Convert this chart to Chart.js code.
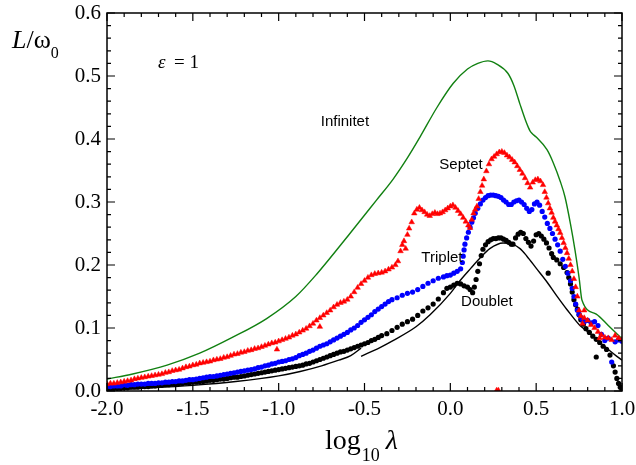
<!DOCTYPE html>
<html>
<head>
<meta charset="utf-8">
<script src="https://cdn.jsdelivr.net/npm/chart.js@4.4.1/dist/chart.umd.min.js"></script>
<style>
  body { margin: 0; background: #fff; }
  #wrap { width: 636px; height: 465px; }
</style>
</head>
<body>
<div id="wrap"><canvas id="lw"></canvas></div>
<script>
// tick labels
const xTicks = [-2.0, -1.5, -1.0, -0.5, 0.0, 0.5, 1.0];
const yTicks = [0.0, 0.1, 0.2, 0.3, 0.4, 0.5, 0.6];

// Infinitet (green line)
const infX = [-2.0, -1.85, -1.65, -1.46, -1.27, -1.07, -0.9, -0.78, -0.585, -0.43, -0.334, -0.25, -0.177, -0.078, 0.016, 0.1, 0.16, 0.219, 0.27, 0.336, 0.37, 0.406, 0.44, 0.455, 0.464, 0.475, 0.5, 0.563, 0.6, 0.64, 0.668, 0.7, 0.726, 0.75, 0.767, 0.85, 0.92, 0.988, 1.0];
const infY = [0.019, 0.027, 0.041, 0.060, 0.085, 0.115, 0.150, 0.185, 0.250, 0.303, 0.336, 0.370, 0.403, 0.450, 0.488, 0.511, 0.520, 0.524, 0.519, 0.504, 0.485, 0.455, 0.428, 0.418, 0.413, 0.409, 0.403, 0.383, 0.362, 0.333, 0.308, 0.265, 0.224, 0.180, 0.144, 0.122, 0.104, 0.086, 0.083];

// solid black line, two pieces (jump near -0.52)
const lineAX = [-2.0, -1.75, -1.5, -1.25, -1.0, -0.875, -0.75, -0.65, -0.58, -0.52];
const lineAY = [0.002, 0.005, 0.009, 0.015, 0.024, 0.031, 0.040, 0.049, 0.056, 0.068];
const lineBX = [-0.52, -0.41, -0.334, -0.2, -0.118, 0.0, 0.056, 0.12, 0.173, 0.23, 0.307, 0.36, 0.406, 0.446, 0.5, 0.563, 0.62, 0.68, 0.755, 0.8, 0.88, 0.97, 1.0];
const lineBY = [0.055, 0.069, 0.080, 0.102, 0.121, 0.155, 0.175, 0.195, 0.211, 0.226, 0.235, 0.233, 0.226, 0.214, 0.195, 0.173, 0.151, 0.129, 0.104, 0.094, 0.075, 0.055, 0.049];

// Septet (red triangles)
const sepX = [-2.00, -1.98, -1.96, -1.94, -1.92, -1.90, -1.88, -1.86, -1.84, -1.82, -1.80, -1.78, -1.76, -1.74, -1.72, -1.70, -1.68, -1.66, -1.64, -1.62,
  -1.60, -1.58, -1.56, -1.54, -1.52, -1.50, -1.48, -1.46, -1.44, -1.42, -1.40, -1.38, -1.36, -1.34, -1.32, -1.30, -1.28, -1.26, -1.24, -1.22,
  -1.20, -1.18, -1.16, -1.14, -1.12, -1.10, -1.08, -1.06, -1.04, -1.02, -1.00, -0.98, -0.96, -0.94, -0.92, -0.90, -0.88, -0.86, -0.84, -0.82,
  -0.80, -0.78, -0.76, -0.74, -0.72, -0.70, -0.68, -0.66, -0.64, -0.62, -0.60, -0.58, -0.56, -0.54, -0.52, -0.50, -0.48, -0.46, -0.44, -0.42,
  -0.40, -0.38, -0.36, -0.34, -0.32, -0.305,
  -0.29, -0.28, -0.27, -0.26, -0.25, -0.24, -0.225, -0.21, -0.195, -0.18, -0.165, -0.15, -0.135, -0.12, -0.105, -0.09, -0.075, -0.06, -0.045, -0.03, -0.015, 0.0,
  0.015, 0.03, 0.045, 0.06, 0.075, 0.09, 0.105, 0.115, 0.125, 0.135, 0.145, 0.155, 0.165, 0.175, 0.185, 0.195, 0.21, 0.225, 0.24, 0.255, 0.27, 0.285, 0.30,
  0.315, 0.33, 0.345, 0.36, 0.375, 0.39, 0.405, 0.42, 0.435, 0.45, 0.465, 0.48, 0.495, 0.51, 0.525, 0.54, 0.55, 0.56, 0.57, 0.58, 0.59, 0.60, 0.61, 0.62, 0.63,
  0.64, 0.65, 0.66, 0.67, 0.68, 0.69, 0.70, 0.71, 0.72, 0.73, 0.74, 0.75, 0.76, 0.78, 0.80, 0.82, 0.84, 0.86, 0.88, 0.90, 0.92, 0.94, 0.96, 0.98, 1.00,
  -1.01, -0.76, 0.27, 0.28, 0.87, 0.78, 0.77];
const sepY = [0.011, 0.012, 0.012, 0.013, 0.014, 0.015, 0.016, 0.017, 0.019, 0.020, 0.021, 0.022, 0.023, 0.024, 0.025, 0.026, 0.027, 0.029, 0.030, 0.032,
  0.033, 0.034, 0.036, 0.038, 0.039, 0.041, 0.042, 0.044, 0.045, 0.046, 0.047, 0.049, 0.050, 0.051, 0.053, 0.054, 0.056, 0.058, 0.059, 0.061,
  0.062, 0.064, 0.065, 0.067, 0.068, 0.070, 0.072, 0.074, 0.076, 0.077, 0.079, 0.081, 0.083, 0.085, 0.088, 0.090, 0.093, 0.096, 0.099, 0.103,
  0.107, 0.112, 0.116, 0.120, 0.124, 0.128, 0.133, 0.137, 0.140, 0.142, 0.145, 0.150, 0.157, 0.164, 0.170, 0.175, 0.180, 0.184, 0.186, 0.187,
  0.188, 0.190, 0.193, 0.196, 0.200, 0.206,
  0.222, 0.232, 0.238, 0.226, 0.248, 0.258, 0.268, 0.282, 0.288, 0.291, 0.287, 0.284, 0.280, 0.278, 0.281, 0.283, 0.281, 0.282, 0.284, 0.287, 0.290, 0.293,
  0.295, 0.291, 0.286, 0.281, 0.275, 0.269, 0.263, 0.259, 0.272, 0.282, 0.288, 0.293, 0.305, 0.316, 0.326, 0.336, 0.349, 0.360, 0.368, 0.372, 0.376, 0.379, 0.380,
  0.378, 0.374, 0.371, 0.367, 0.363, 0.357, 0.351, 0.345, 0.338, 0.330, 0.323, 0.331, 0.335, 0.336, 0.333, 0.327, 0.316, 0.307, 0.298, 0.290, 0.283, 0.275, 0.269, 0.263, 0.257,
  0.251, 0.243, 0.235, 0.227, 0.219, 0.210, 0.200, 0.190, 0.178, 0.165, 0.150, 0.128, 0.119, 0.116, 0.112, 0.105, 0.100, 0.094, 0.089, 0.085, 0.084, 0.081, 0.088, 0.084, 0.082,
  0.066, 0.102, 0.001, 0.001, 0.084, 0.128, 0.107];

// Triplet (blue circles)
const triX = [-2.00, -1.98, -1.96, -1.94, -1.92, -1.90, -1.88, -1.86, -1.84, -1.82, -1.80, -1.78, -1.76, -1.74, -1.72, -1.70, -1.68, -1.66, -1.64, -1.62,
  -1.60, -1.58, -1.56, -1.54, -1.52, -1.50, -1.48, -1.46, -1.44, -1.42, -1.40, -1.38, -1.36, -1.34, -1.32, -1.30, -1.28, -1.26, -1.24, -1.22,
  -1.20, -1.18, -1.16, -1.14, -1.12, -1.10, -1.08, -1.06, -1.04, -1.02, -1.00, -0.98, -0.96, -0.94, -0.92, -0.90, -0.88, -0.86, -0.84, -0.82,
  -0.80, -0.78, -0.76, -0.74, -0.72, -0.70, -0.68, -0.66, -0.64, -0.62, -0.60, -0.58, -0.56, -0.54, -0.52, -0.50, -0.48, -0.46, -0.44, -0.42,
  -0.40, -0.38, -0.36, -0.34, -0.31, -0.28,
  -0.25, -0.22, -0.19, -0.16, -0.13, -0.10, -0.07, -0.04, -0.02, 0.0, 0.02, 0.04, 0.06, 0.07, 0.075, 0.08, 0.085, 0.095, 0.105, 0.115, 0.125, 0.135, 0.145, 0.16,
  0.175, 0.19, 0.205, 0.22, 0.235, 0.25, 0.265, 0.28, 0.295, 0.31, 0.325, 0.34, 0.355, 0.37, 0.385, 0.40, 0.415, 0.43, 0.445, 0.46, 0.475, 0.49, 0.505, 0.52, 0.535,
  0.55, 0.565, 0.58, 0.595, 0.61, 0.625, 0.64, 0.655, 0.67, 0.685, 0.70, 0.71, 0.72, 0.73, 0.74, 0.75, 0.76, 0.77, 0.78, 0.80, 0.82, 0.84, 0.86, 0.88, 0.90, 0.92, 0.94, 0.96, 0.98, 1.00];
const triY = [0.007, 0.007, 0.008, 0.008, 0.008, 0.009, 0.009, 0.010, 0.010, 0.011, 0.011, 0.011, 0.012, 0.012, 0.012, 0.013, 0.013, 0.014, 0.014, 0.015,
  0.015, 0.016, 0.016, 0.017, 0.018, 0.018, 0.019, 0.020, 0.021, 0.022, 0.023, 0.023, 0.024, 0.025, 0.026, 0.027, 0.028, 0.029, 0.030, 0.031,
  0.032, 0.033, 0.034, 0.035, 0.037, 0.038, 0.040, 0.041, 0.043, 0.044, 0.046, 0.047, 0.048, 0.050, 0.051, 0.053, 0.056, 0.058, 0.060, 0.063,
  0.065, 0.068, 0.071, 0.073, 0.075, 0.078, 0.081, 0.084, 0.087, 0.090, 0.093, 0.097, 0.100, 0.104, 0.109, 0.113, 0.117, 0.121, 0.126, 0.130,
  0.134, 0.138, 0.142, 0.145, 0.148, 0.152,
  0.155, 0.157, 0.161, 0.166, 0.171, 0.175, 0.179, 0.181, 0.183, 0.184, 0.187, 0.190, 0.194, 0.204, 0.214, 0.224, 0.233, 0.243, 0.252, 0.260, 0.268, 0.275, 0.282, 0.290,
  0.297, 0.303, 0.307, 0.310, 0.311, 0.311, 0.310, 0.309, 0.307, 0.303, 0.300, 0.296, 0.296, 0.300, 0.302, 0.303, 0.300, 0.296, 0.290, 0.285, 0.288, 0.297, 0.300, 0.295, 0.285,
  0.276, 0.266, 0.258, 0.250, 0.241, 0.232, 0.222, 0.209, 0.198, 0.187, 0.175, 0.163, 0.150, 0.138, 0.128, 0.122, 0.117, 0.113, 0.110, 0.112, 0.108, 0.110, 0.104, 0.090, 0.080, 0.084, 0.046, 0.078, 0.081, 0.079];

// Doublet (black circles)
const dubX = [-2.00, -1.98, -1.96, -1.94, -1.92, -1.90, -1.88, -1.86, -1.84, -1.82, -1.80, -1.78, -1.76, -1.74, -1.72, -1.70, -1.68, -1.66, -1.64, -1.62,
  -1.60, -1.58, -1.56, -1.54, -1.52, -1.50, -1.48, -1.46, -1.44, -1.42, -1.40, -1.38, -1.36, -1.34, -1.32, -1.30, -1.28, -1.26, -1.24, -1.22,
  -1.20, -1.18, -1.16, -1.14, -1.12, -1.10, -1.08, -1.06, -1.04, -1.02, -1.00, -0.98, -0.96, -0.94, -0.92, -0.90, -0.88, -0.86, -0.84, -0.82,
  -0.80, -0.78, -0.76, -0.74, -0.72, -0.70, -0.68, -0.66, -0.64, -0.62, -0.60, -0.58, -0.56, -0.54, -0.52, -0.50, -0.48, -0.46, -0.44, -0.42,
  -0.40, -0.37, -0.34, -0.31, -0.28,
  -0.25, -0.22, -0.19, -0.16, -0.13, -0.10, -0.07, -0.04, -0.02, 0.0, 0.02, 0.04, 0.06, 0.08, 0.10, 0.115, 0.13, 0.14, 0.15, 0.16, 0.17, 0.18, 0.19, 0.205, 0.22,
  0.235, 0.25, 0.265, 0.28, 0.295, 0.31, 0.325, 0.34, 0.355, 0.365, 0.38, 0.395, 0.41, 0.425, 0.44, 0.455, 0.47, 0.485, 0.50, 0.515, 0.53, 0.545, 0.56, 0.575, 0.59, 0.60,
  0.57, 0.62, 0.64, 0.66, 0.68, 0.69, 0.70, 0.71, 0.72, 0.73, 0.74, 0.75, 0.76, 0.775, 0.79, 0.81, 0.83, 0.85, 0.87, 0.89, 0.91, 0.85, 0.93, 0.95, 0.96, 0.97, 0.98, 0.99, 1.00];
const dubY = [0.003, 0.003, 0.004, 0.004, 0.004, 0.005, 0.005, 0.006, 0.006, 0.006, 0.007, 0.007, 0.007, 0.008, 0.008, 0.009, 0.009, 0.010, 0.010, 0.011,
  0.011, 0.012, 0.012, 0.013, 0.013, 0.014, 0.014, 0.015, 0.015, 0.016, 0.017, 0.017, 0.018, 0.019, 0.019, 0.020, 0.021, 0.022, 0.022, 0.023,
  0.024, 0.025, 0.026, 0.027, 0.028, 0.029, 0.030, 0.031, 0.032, 0.033, 0.034, 0.035, 0.036, 0.037, 0.038, 0.039, 0.040, 0.041, 0.043, 0.044,
  0.046, 0.048, 0.050, 0.052, 0.054, 0.056, 0.058, 0.060, 0.062, 0.063, 0.065, 0.067, 0.069, 0.071, 0.073, 0.075, 0.077, 0.080, 0.082, 0.085,
  0.088, 0.091, 0.096, 0.101, 0.106,
  0.110, 0.114, 0.120, 0.127, 0.132, 0.138, 0.146, 0.156, 0.163, 0.165, 0.168, 0.171, 0.170, 0.167, 0.165, 0.161, 0.156, 0.165, 0.177, 0.190, 0.202, 0.215, 0.225, 0.232, 0.237,
  0.240, 0.242, 0.242, 0.243, 0.243, 0.241, 0.239, 0.236, 0.233, 0.233, 0.243, 0.249, 0.252, 0.250, 0.242, 0.236, 0.230, 0.238, 0.248, 0.250, 0.246, 0.241, 0.235, 0.227, 0.218, 0.212,
  0.187, 0.208, 0.202, 0.196, 0.188, 0.180, 0.170, 0.157, 0.145, 0.137, 0.130, 0.121, 0.113, 0.106, 0.099, 0.093, 0.087, 0.082, 0.077, 0.071, 0.066, 0.054, 0.057, 0.040, 0.030, 0.020, 0.012, 0.006, 0.002];

function pairs(xs, ys) {
    return xs.map((v, i) => ({ x: v, y: ys[i] }));
}

const serif = "'Liberation Serif', 'Times New Roman', serif";
const sans = "'Liberation Sans', Arial, sans-serif";

// frame, inward ticks and the text inside / around the plot
const decor = {
    id: 'decor',
    afterDatasetsDraw(chart) {
        const { ctx, chartArea: a, scales: { x, y } } = chart;
        ctx.save();
        ctx.strokeStyle = '#000';
        ctx.lineWidth = 1.5;
        ctx.strokeRect(a.left, a.top, a.right - a.left, a.bottom - a.top);

        ctx.lineWidth = 1.2;
        ctx.beginPath();
        for (let i = 0; i <= 30; i++) {
            const px = x.getPixelForValue(-2 + i * 0.1);
            const len = i % 5 === 0 ? 8 : 4;
            ctx.moveTo(px, a.bottom); ctx.lineTo(px, a.bottom - len);
            ctx.moveTo(px, a.top); ctx.lineTo(px, a.top + len);
        }
        for (let i = 0; i <= 30; i++) {
            const py = y.getPixelForValue(i * 0.02);
            const len = i % 5 === 0 ? 8 : 4;
            ctx.moveTo(a.left, py); ctx.lineTo(a.left + len, py);
            ctx.moveTo(a.right, py); ctx.lineTo(a.right - len, py);
        }
        ctx.stroke();

        // series names
        ctx.fillStyle = '#000';
        ctx.font = '15px ' + sans;
        ctx.textAlign = 'center';
        ctx.textBaseline = 'middle';
        const names = [['Infinitet', -0.614, 0.427], ['Septet', 0.062, 0.359], ['Triplet', -0.049, 0.211], ['Doublet', 0.213, 0.141]];
        names.forEach(n => ctx.fillText(n[0], x.getPixelForValue(n[1]), y.getPixelForValue(n[2])));

        // epsilon note
        ctx.textAlign = 'left';
        ctx.textBaseline = 'alphabetic';
        ctx.font = 'italic 19px ' + serif;
        ctx.fillText('\u03b5', 158, 68);
        ctx.font = '19px ' + serif;
        ctx.fillText('= 1', 174, 68);

        // y title  L/ω0
        ctx.font = 'italic 26px ' + serif;
        ctx.fillText('L', 12, 48);
        let cx = 12 + ctx.measureText('L').width;
        ctx.font = '26px ' + serif;
        ctx.fillText('/\u03c9', cx, 48);
        cx += ctx.measureText('/\u03c9').width;
        ctx.font = '16px ' + serif;
        ctx.fillText('0', cx, 58);

        // x title  log10 λ
        ctx.font = '28px ' + serif;
        ctx.fillText('log', 325, 449);
        cx = 325 + ctx.measureText('log').width;
        ctx.font = '18px ' + serif;
        ctx.fillText('10', cx + 1, 461);
        cx += ctx.measureText('10').width + 7;
        ctx.font = 'italic 28px ' + serif;
        ctx.fillText('\u03bb', cx, 449);
        ctx.restore();
    }
};

new Chart(document.getElementById('lw').getContext('2d'), {
    type: 'scatter',
    data: {
        datasets: [
            { label: 'Septet', data: pairs(sepX, sepY), pointStyle: 'triangle', pointRadius: 3.2,
              backgroundColor: '#ff0000', borderColor: '#ff0000', borderWidth: 0.5 },
            { label: 'Triplet', data: pairs(triX, triY), pointStyle: 'circle', pointRadius: 2.6,
              backgroundColor: '#0000ff', borderColor: '#0000ff', borderWidth: 0 },
            { label: 'Doublet', data: pairs(dubX, dubY), pointStyle: 'circle', pointRadius: 2.6,
              backgroundColor: '#000000', borderColor: '#000000', borderWidth: 0 },
            { label: 'Doublet line A', data: pairs(lineAX, lineAY), showLine: true, pointRadius: 0,
              borderColor: '#000000', borderWidth: 1.4, cubicInterpolationMode: 'monotone' },
            { label: 'Doublet line B', data: pairs(lineBX, lineBY), showLine: true, pointRadius: 0,
              borderColor: '#000000', borderWidth: 1.4, cubicInterpolationMode: 'monotone' },
            { label: 'Infinitet', data: pairs(infX, infY), showLine: true, pointRadius: 0,
              borderColor: '#118011', borderWidth: 1.4, cubicInterpolationMode: 'monotone' }
        ]
    },
    options: {
        responsive: true,
        maintainAspectRatio: false,
        animation: false,
        layout: { padding: { top: 13, right: 14, left: 0, bottom: 0 } },
        plugins: { legend: { display: false }, tooltip: { enabled: false } },
        scales: {
            x: {
                type: 'linear', min: -2, max: 1,
                afterFit: s => { s.height = 74; s.paddingLeft = 0; s.paddingRight = 0; },
                afterBuildTicks: s => { s.ticks = xTicks.map(v => ({ value: v })); },
                grid: { display: false, drawTicks: false },
                border: { display: false },
                ticks: { font: { family: serif, size: 21 }, color: '#000', padding: 6,
                         maxRotation: 0, autoSkip: false, callback: v => v.toFixed(1) }
            },
            y: {
                type: 'linear', min: 0, max: 0.6,
                afterFit: s => { s.width = 107; s.paddingTop = 0; s.paddingBottom = 0; },
                afterBuildTicks: s => { s.ticks = yTicks.map(v => ({ value: v })); },
                grid: { display: false, drawTicks: false },
                border: { display: false },
                ticks: { font: { family: serif, size: 21 }, color: '#000', padding: 6,
                         callback: v => v.toFixed(1) }
            }
        }
    },
    plugins: [decor]
});
</script>
</body>
</html>
